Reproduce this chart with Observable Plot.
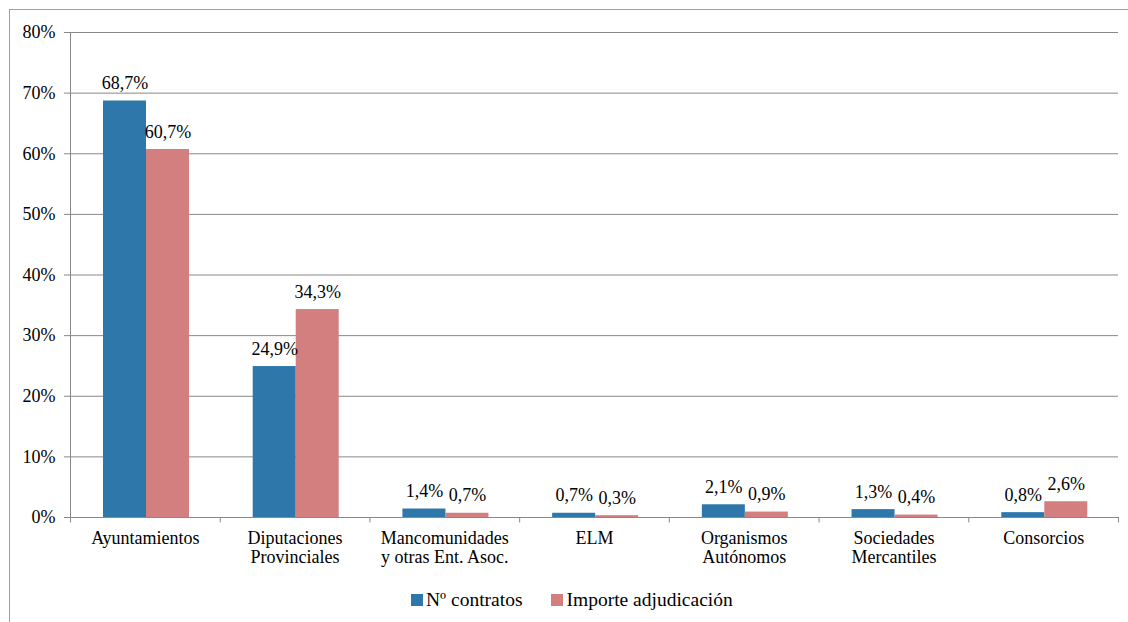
<!DOCTYPE html>
<html>
<head>
<meta charset="utf-8">
<script src="https://cdn.jsdelivr.net/npm/d3@7"></script>
<script src="https://cdn.jsdelivr.net/npm/@observablehq/plot@0.6"></script>
<style>
  html, body { margin: 0; padding: 0; background: #fff; width: 1128px; height: 622px; overflow: hidden; }
  #frame { position: absolute; left: 9px; top: 9px; width: 1140px; height: 640px; border: 1px solid #a0a0a0; box-sizing: border-box; }
  #chart { position: absolute; left: 0; top: 0; }
  #legend { position: absolute; left: 411px; top: 589px; display: flex; align-items: center; font-family: "Liberation Serif", "DejaVu Serif", "Noto Serif", Tinos, "Times New Roman", Times, FreeSerif, serif; font-size: 19.5px; color: #000; }
  #legend .sw { width: 12px; height: 12px; display: inline-block; margin-right: 3px; }
  #legend .item { display: flex; align-items: center; margin-right: 29px; }
  #chart svg text { font-family: "Liberation Serif", "DejaVu Serif", "Noto Serif", Tinos, "Times New Roman", Times, FreeSerif, serif; }
</style>
</head>
<body>
<div id="frame"></div>
<div id="chart"></div>
<div id="legend"></div>
<script>
const categories = ["Ayuntamientos", "Diputaciones\nProvinciales", "Mancomunidades\ny otras Ent. Asoc.", "ELM", "Organismos\nAutónomos", "Sociedades\nMercantiles", "Consorcios"];
const seriesNames = ["Nº contratos", "Importe adjudicación"];
const contratos = [68.7, 24.9, 1.4, 0.7, 2.1, 1.3, 0.8];
const importe = [60.7, 34.3, 0.7, 0.3, 0.9, 0.4, 2.6];
const yTicks = [0, 10, 20, 30, 40, 50, 60, 70, 80];
const colors = ["#2e77ab", "#d47f7f"];

const W = 1128, H = 575, mL = 70, mR = 10, mT = 32, mB = 58;
const bw = (W - mL - mR) / categories.length;
const barW = 43, offL = 33; // pixel layout inside each band

const rowsA = categories.map((c, i) => ({cat: c, value: contratos[i]}));
const rowsB = categories.map((c, i) => ({cat: c, value: importe[i]}));
const fmt = v => v.toFixed(1).replace(".", ",") + "%";
const serif = "'Liberation Serif', 'DejaVu Serif', 'Noto Serif', Tinos, 'Times New Roman', Times, FreeSerif, serif";

const plot = Plot.plot({
  width: W, height: H,
  marginLeft: mL, marginRight: mR, marginTop: mT, marginBottom: mB,
  style: {fontFamily: serif, fontSize: "18px", color: "#000", background: "transparent"},
  x: {domain: categories, padding: 0, round: false, axis: null},
  y: {domain: [0, 80], axis: null},
  marks: [
    Plot.ruleY(yTicks, {stroke: "#888", strokeWidth: 1}),
    Plot.frame({anchor: "left", stroke: "#888"}),
    Plot.ruleX(categories, {x: d => d, dx: -bw / 2, y1: 0, y2: -0.9, stroke: "#888"}),
    Plot.ruleX(categories.slice(-1), {x: d => d, dx: bw / 2, y1: 0, y2: -0.9, stroke: "#888"}),
    Plot.barY(rowsA, {x: "cat", y: "value", fill: colors[0], insetLeft: offL, insetRight: bw - offL - barW}),
    Plot.barY(rowsB, {x: "cat", y: "value", fill: colors[1], insetLeft: offL + barW, insetRight: bw - offL - 2 * barW}),
    Plot.text(rowsA, {x: "cat", y: "value", text: d => fmt(d.value), dx: offL + barW / 2 - bw / 2, dy: -12, lineAnchor: "bottom", fill: "#000"}),
    Plot.text(rowsB, {x: "cat", y: "value", text: d => fmt(d.value), dx: offL + barW * 1.5 - bw / 2, dy: -12, lineAnchor: "bottom", fill: "#000"}),
    Plot.axisY({ticks: yTicks, tickFormat: d => d + "%", tickSize: 6, tickPadding: 9, stroke: "#888", fill: "#000", fontSize: 18, label: null}),
    Plot.axisX({tickSize: 0, tickPadding: 12, lineHeight: 1.1, fill: "#000", fontSize: 18, label: null})
  ]
});
document.getElementById("chart").append(plot);

const legend = document.getElementById("legend");
seriesNames.forEach((n, i) => {
  const it = document.createElement("span");
  it.className = "item";
  const sw = document.createElement("span");
  sw.className = "sw";
  sw.style.background = colors[i];
  it.append(sw, document.createTextNode(n));
  legend.append(it);
});
</script>
</body>
</html>
